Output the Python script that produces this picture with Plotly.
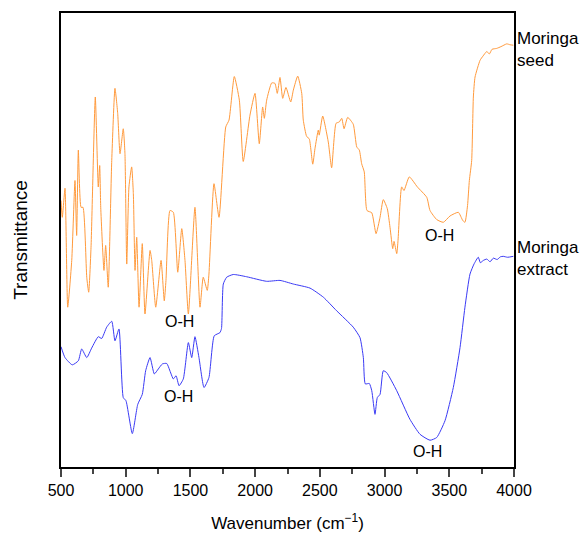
import plotly.graph_objects as go

# Moringa seed (orange) - wavenumber (cm-1) and transmittance (a.u.)
seed_wn = [500, 510, 531, 552, 583, 608, 621, 634, 655, 670, 699, 714, 732, 765, 788, 799, 807,
           832, 845, 865, 892, 917, 938, 956, 981, 994, 1008, 1025, 1046, 1059, 1072, 1085, 1103,
           1128, 1149, 1188, 1201, 1232, 1273, 1298, 1311, 1342, 1368, 1402, 1433, 1458, 1484,
           1535, 1574, 1599, 1630, 1643, 1682, 1721, 1773, 1798, 1839, 1878, 1908, 1960, 1999,
           2032, 2058, 2071, 2089, 2128, 2153, 2171, 2192, 2213, 2238, 2275, 2295, 2329, 2360,
           2372, 2398, 2418, 2445, 2462, 2488, 2495, 2522, 2565, 2591, 2625, 2650, 2669, 2687,
           2715, 2758, 2785, 2805, 2823, 2843, 2864, 2901, 2934, 2965, 2990, 3021, 3042, 3063,
           3073, 3094, 3104, 3132, 3150, 3191, 3253, 3326, 3351, 3403, 3454, 3506, 3570, 3604,
           3621, 3641, 3655, 3673, 3686, 3699, 3738, 3760, 3789, 3810, 3830, 3866, 3900, 3944,
           3970, 3995]
seed_t = [58.7, 55.0, 61.4, 35.2, 45.5, 63.1, 51.0, 69.8, 57.2, 57.2, 41.8, 38.5, 48.4, 81.5, 61.7,
          66.4, 57.2, 43.3, 48.8, 39.6, 67.5, 83.4, 77.9, 69.0, 74.5, 69.1, 44.7, 61.7, 66.1, 60.2,
          43.3, 50.6, 35.2, 49.2, 33.7, 47.7, 45.5, 35.2, 45.5, 36.6, 41.1, 56.5, 56.1, 42.9, 52.5,
          45.5, 33.7, 57.2, 35.2, 41.8, 38.9, 42.5, 62.4, 55.0, 74.9, 76.4, 86.0, 80.8, 67.3, 77.5,
          82.3, 71.2, 79.3, 76.8, 80.8, 84.6, 84.5, 82.3, 85.8, 81.2, 83.6, 80.4, 83.0, 86.1, 82.3,
          76.4, 72.8, 72.3, 66.7, 70.1, 74.2, 73.1, 77.3, 71.6, 65.9, 75.7, 76.0, 76.8, 74.5, 77.0,
          75.5, 70.5, 69.8, 66.8, 65.0, 56.5, 56.0, 51.4, 55.0, 58.9, 56.9, 52.8, 48.1, 49.7, 47.0,
          49.9, 61.7, 60.9, 63.9, 61.7, 59.4, 56.5, 54.5, 53.9, 55.3, 56.1, 54.3, 53.9, 57.6, 63.1,
          67.5, 81.5, 85.9, 89.6, 90.5, 91.5, 91.0, 92.0, 92.2, 92.6, 93.2, 93.0, 92.9]

# Moringa extract (blue)
ext_wn = [500, 531, 587, 634, 660, 699, 737, 788, 814, 853, 892, 917, 948, 981, 1002, 1051, 1093,
          1128, 1154, 1188, 1221, 1252, 1283, 1317, 1368, 1389, 1412, 1445, 1484, 1510, 1535,
          1566, 1605, 1643, 1684, 1728, 1740, 1754, 1780, 1831, 1935, 2089, 2192, 2295, 2424,
          2527, 2630, 2758, 2810, 2836, 2851, 2882, 2901, 2926, 2944, 2965, 2990, 3016, 3094,
          3196, 3274, 3351, 3403, 3467, 3531, 3583, 3621, 3660, 3691, 3724, 3740, 3763, 3790,
          3815, 3840, 3870, 3895, 3917, 3950, 3995]
ext_t = [26.5, 24.1, 22.5, 23.4, 26.0, 24.1, 26.2, 28.7, 28.3, 30.8, 32.1, 27.8, 30.4, 15.3, 14.6,
         7.35, 13.8, 16.0, 21.2, 24.1, 20.5, 21.6, 22.7, 22.8, 19.4, 20.1, 17.9, 19.4, 27.4, 24.1,
         28.7, 24.1, 17.5, 19.7, 28.9, 29.6, 30.5, 40.3, 41.8, 42.4, 41.9, 40.9, 41.1, 40.3, 39.4,
         37.4, 34.4, 30.8, 28.5, 24.1, 18.3, 18.4, 16.8, 11.6, 15.3, 16.0, 21.2, 20.8, 16.8, 10.5,
         7.2, 5.9, 6.5, 10.2, 17.5, 26.3, 35.2, 42.5, 44.7, 46.2, 45.0, 45.5, 45.8, 45.2, 46.0,
         45.7, 46.3, 46.4, 46.2, 46.4]

x_ticks = [500, 1000, 1500, 2000, 2500, 3000, 3500, 4000]

# Peak labels
oh_wn = [1419, 1404, 3428, 3328]
oh_t = [32.0, 15.5, 51.0, 3.5]

FONT = "Liberation Sans, Arial, sans-serif"

fig = go.Figure()
fig.add_trace(go.Scatter(x=seed_wn, y=seed_t, mode="lines",
                         line=dict(color="#ff9a3c", width=1, shape="spline", smoothing=0.5),
                         showlegend=False))
fig.add_trace(go.Scatter(x=ext_wn, y=ext_t, mode="lines",
                         line=dict(color="#3a3af5", width=1, shape="spline", smoothing=0.5),
                         showlegend=False))

for xw, yt in zip(oh_wn, oh_t):
    fig.add_annotation(x=xw, y=yt, text="O-H", showarrow=False,
                       font=dict(size=16, color="black", family=FONT))

fig.add_annotation(xref="paper", x=1.0, y=92.0, text="Moringa<br>seed", showarrow=False,
                   xanchor="left", align="left", xshift=1,
                   font=dict(size=17, color="black", family=FONT))
fig.add_annotation(xref="paper", x=1.0, y=46.0, text="Moringa<br>extract", showarrow=False,
                   xanchor="left", align="left", xshift=1,
                   font=dict(size=17, color="black", family=FONT))

fig.update_layout(
    width=583, height=533,
    margin=dict(l=61, r=69, t=13, b=66),
    paper_bgcolor="white", plot_bgcolor="white",
    font=dict(family=FONT, color="black"),
)
fig.update_xaxes(range=[500, 4000], tickvals=x_ticks, ticks="outside", ticklen=8, tickwidth=1.5,
                 showline=True, linewidth=2, linecolor="black", mirror=True, showgrid=False,
                 zeroline=False, tickfont=dict(size=16), automargin=False,
                 minor=dict(ticks="outside", ticklen=5, tickwidth=1.5, dtick=250, showgrid=False),
                 title=dict(text="Wavenumber (cm<sup>\u22121</sup>)", font=dict(size=17), standoff=20))
fig.update_yaxes(range=[0, 100], showticklabels=False, ticks="", showline=True, linewidth=2,
                 linecolor="black", mirror=True, showgrid=False, zeroline=False, automargin=False,
                 title=dict(text="Transmittance", font=dict(size=19), standoff=26))

fig.write_html("out.html", config={"displayModeBar": False},
               post_script="document.body.style.margin='0';document.body.style.overflow='hidden';")
